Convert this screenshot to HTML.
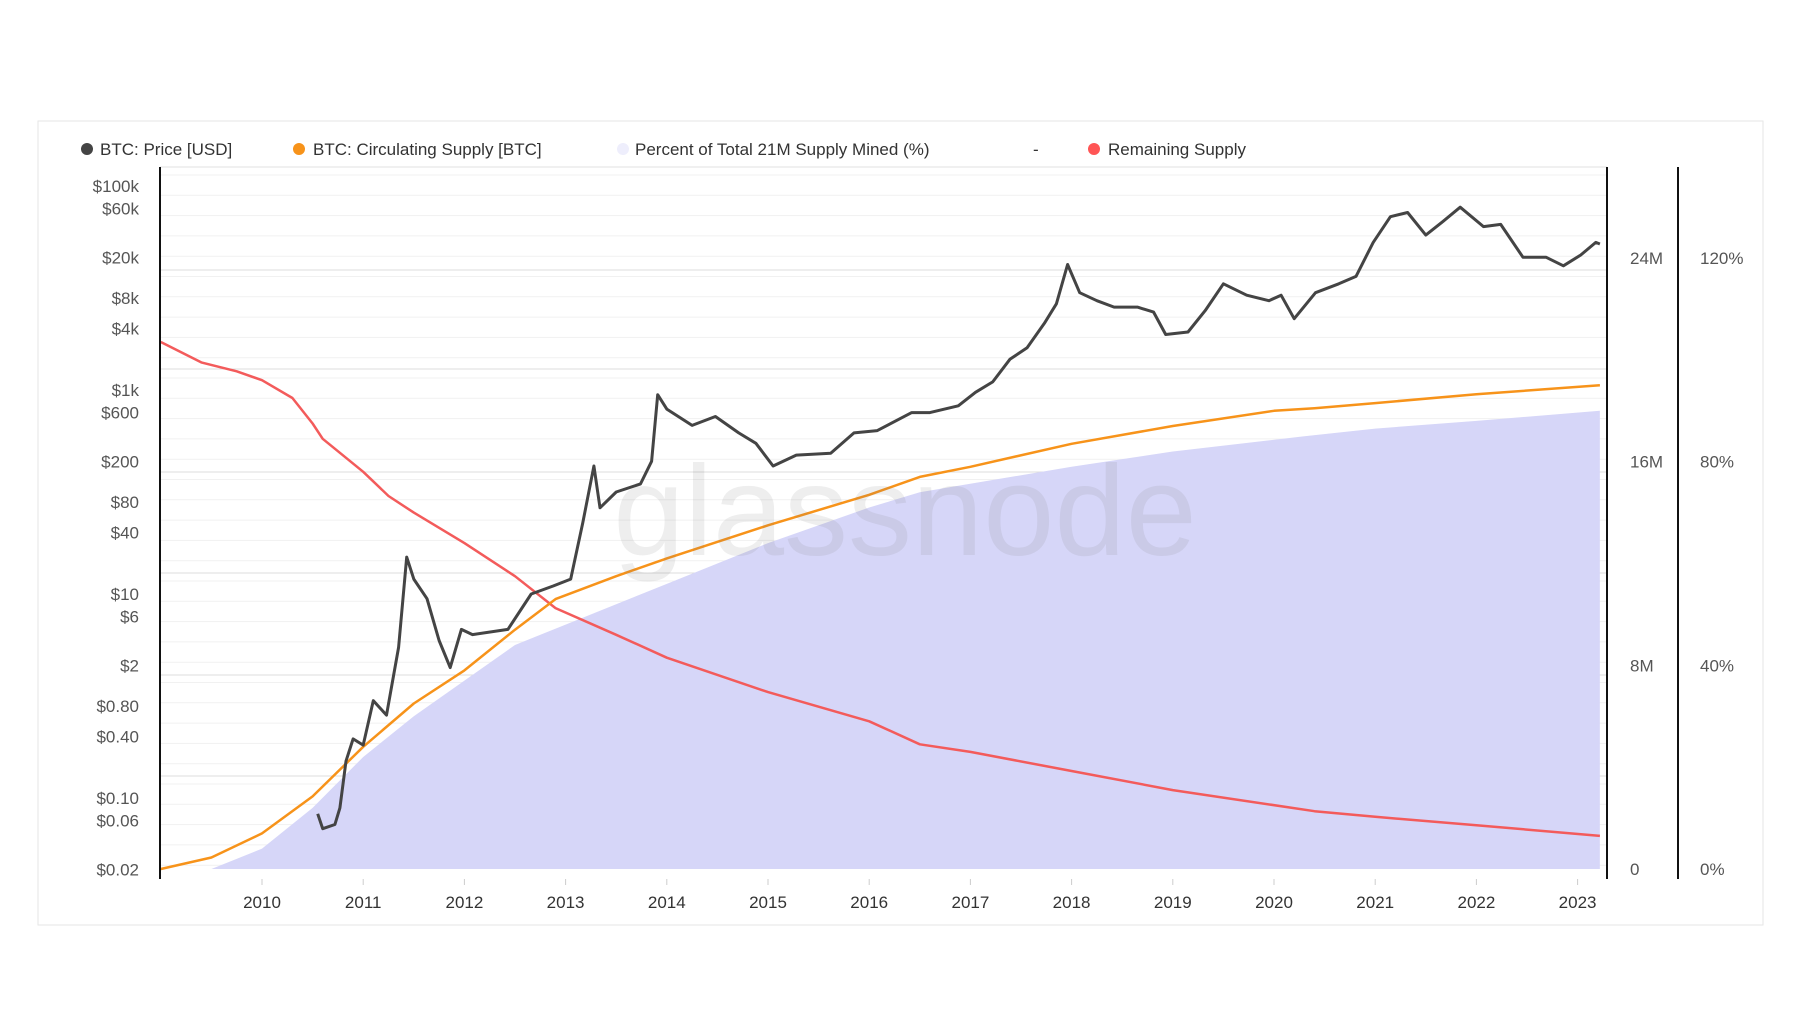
<!DOCTYPE html>
<html><head><meta charset="utf-8"><style>
body{margin:0;background:#fff;font-family:"Liberation Sans",sans-serif}
#wrap{position:relative;width:1800px;height:1013px;overflow:hidden}
</style></head><body>
<div id="wrap">
<svg id="chart" width="1800" height="1013" xmlns="http://www.w3.org/2000/svg">
<rect x="38" y="121" width="1725" height="804" fill="#fff" stroke="#e6e6e6"/>
<g id="grid"></g>
<g id="series"></g>
<text x="905" y="555" font-size="128" fill="#777" opacity="0.12" text-anchor="middle" font-family="Liberation Sans, sans-serif">glassnode</text>
<g id="axes"></g>
<g id="legend" font-size="17" fill="#333">
<circle cx="87" cy="149" r="6" fill="#444"/>
<text x="100" y="155">BTC: Price [USD]</text>
<circle cx="299" cy="149" r="6" fill="#f7931a"/>
<text x="313" y="155">BTC: Circulating Supply [BTC]</text>
<circle cx="623" cy="149" r="6" fill="#eeeefc"/>
<text x="635" y="155">Percent of Total 21M Supply Mined (%)</text>
<text x="1033" y="155">-</text>
<circle cx="1094" cy="149" r="6" fill="#f55"/>
<text x="1108" y="155">Remaining Supply</text>
</g>
</svg>
</div>
<script>
const priceYears=[2010.55,2010.6,2010.72,2010.77,2010.83,2010.9,2011.0,2011.1,2011.23,2011.35,2011.43,2011.5,2011.63,2011.75,2011.86,2011.97,2012.08,2012.43,2012.66,2012.88,2013.05,2013.17,2013.28,2013.34,2013.5,2013.74,2013.85,2013.91,2014.0,2014.25,2014.48,2014.71,2014.88,2015.05,2015.28,2015.62,2015.85,2016.08,2016.42,2016.6,2016.88,2017.05,2017.22,2017.39,2017.56,2017.73,2017.85,2017.96,2018.08,2018.25,2018.42,2018.65,2018.81,2018.93,2019.15,2019.32,2019.5,2019.73,2019.95,2020.07,2020.2,2020.41,2020.64,2020.81,2020.98,2021.15,2021.32,2021.5,2021.67,2021.84,2022.07,2022.24,2022.46,2022.69,2022.86,2023.03,2023.18,2023.22];
const priceValues=[0.07,0.05,0.055,0.08,0.23,0.38,0.33,0.9,0.65,3,23,14,9,3.5,1.9,4.5,4,4.5,10,12,14,50,180,70,100,120,200,900,650,450,550,380,300,180,230,240,380,400,600,600,700,950,1200,2000,2600,4500,7000,17000,9000,7500,6500,6500,5800,3500,3700,6000,11000,8500,7500,8500,5000,9000,11000,13000,28000,50000,55000,33000,45000,62000,40000,42000,20000,20000,16500,21000,28000,27000];
const supplyYears=[2009.0,2009.5,2010.0,2010.5,2011.0,2011.5,2012.0,2012.5,2012.9,2013.5,2014.0,2015.0,2016.0,2016.5,2017.0,2018.0,2019.0,2020.0,2020.4,2021.0,2022.0,2023.22];
const supplyValues=[0,0.45,1.4,2.85,4.8,6.5,7.8,9.4,10.6,11.5,12.2,13.5,14.7,15.4,15.8,16.7,17.4,18.0,18.1,18.3,18.65,19.0];
const remainingYears=[2009.0,2009.4,2009.75,2010.0,2010.3,2010.5,2010.6,2011.0,2011.25,2011.5,2012.0,2012.5,2012.9,2013.5,2014.0,2015.0,2016.0,2016.5,2017.0,2018.0,2019.0,2020.4,2021.0,2022.0,2023.22];
const remainingValues=[20.7,19.9,19.55,19.2,18.5,17.5,16.9,15.6,14.65,14.0,12.8,11.5,10.25,9.2,8.3,6.95,5.8,4.9,4.6,3.85,3.1,2.27,2.05,1.72,1.3];
const pctYears=[2009.0,2009.5,2010.0,2010.5,2011.0,2011.5,2012.0,2012.5,2013.0,2014.0,2015.0,2016.0,2016.5,2018.0,2019.0,2020.3,2021.0,2022.0,2023.22];
const pctValues=[0,0,4,12,22,30,37,44,48,56,64,71,74,79,82,85,86.5,88,90];
const priceTicks=[100000,60000,20000,8000,4000,1000,600,200,80,40,10,6,2,0.8,0.4,0.1,0.06,0.02];
const priceTickLabels=["$100k","$60k","$20k","$8k","$4k","$1k","$600","$200","$80","$40","$10","$6","$2","$0.80","$0.40","$0.10","$0.06","$0.02"];
const supplyTicks=[0,8,16,24];
const supplyTickLabels=["0","8M","16M","24M"];
const pctTicks=[0,40,80,120];
const pctTickLabels=["0%","40%","80%","120%"];
const yearTicks=[2010,2011,2012,2013,2014,2015,2016,2017,2018,2019,2020,2021,2022,2023];

const NS="http://www.w3.org/2000/svg";
const L=160,R=1607,T=167,B=879;
const xS=y=>262+(y-2010)*101.2;
const yP=v=>186+(5-Math.log10(v))*102;
const yM=m=>869-m*(869-258)/24;
const yPct=p=>yM(p/5);
function mk(tag,attrs,parent){const e=document.createElementNS(NS,tag);for(const k in attrs)e.setAttribute(k,attrs[k]);parent.appendChild(e);return e;}
const grid=document.getElementById('grid'),series=document.getElementById('series'),axes=document.getElementById('axes');
for(let y=T+8;y<B;y+=20.3){const l=mk('line',{x1:L,x2:R,y1:y,y2:y,stroke:'#f1f1f1'},grid);

}
[270,369,472,573,675,776].forEach(y=>{const l=mk('line',{x1:L,x2:R,y1:y,y2:y,stroke:'#dcdcdc'},grid);

});
mk('line',{x1:L,x2:R,y1:T,y2:T,stroke:'#e0e0e0'},grid);
let d='M'+xS(pctYears[0])+','+yPct(0);
pctYears.forEach((yr,i)=>{d+=' L'+xS(yr)+','+yPct(pctValues[i]);});
d+=' L'+xS(pctYears[pctYears.length-1])+','+yPct(0)+' Z';
const area=mk('path',{d:d,fill:'#d6d6f8',stroke:'none'},series);


function line(xs,vs,f,color,w,name){const p=mk('path',{d:xs.map((yr,i)=>(i?'L':'M')+xS(yr).toFixed(1)+','+f(vs[i]).toFixed(1)).join(' '),fill:'none',stroke:color,'stroke-width':w,'stroke-linejoin':'round'},series);

}
line(remainingYears,remainingValues,yM,'#f35b5b',2.5,'remaining-supply-line');
line(supplyYears,supplyValues,yM,'#f7931a',2.5,'circulating-supply-line');
line(priceYears,priceValues,yP,'#444',3,'price-line');
[[L,'left-axis'],[R,'right-axis'],[1678,'percent-axis']].forEach(([x,n])=>{const a=mk('line',{x1:x,x2:x,y1:T,y2:B,stroke:'#111','stroke-width':2},axes);

});
priceTicks.forEach((v,i)=>{const t=mk('text',{x:139,y:yP(v)+6,'text-anchor':'end','font-size':17,fill:'#555'},axes);t.textContent=priceTickLabels[i];

});
supplyTicks.forEach((v,i)=>{const t=mk('text',{x:1630,y:yM(v)+6,'font-size':17,fill:'#555'},axes);t.textContent=supplyTickLabels[i];

});
pctTicks.forEach((v,i)=>{const t=mk('text',{x:1700,y:yPct(v)+6,'font-size':17,fill:'#555'},axes);t.textContent=pctTickLabels[i];

});
yearTicks.forEach(yr=>{mk('line',{x1:xS(yr),x2:xS(yr),y1:B,y2:B+6,stroke:'#ccc'},axes);
const t=mk('text',{x:xS(yr),y:908,'text-anchor':'middle','font-size':17,fill:'#333'},axes);t.textContent=yr;

});
</script>
</body></html>
